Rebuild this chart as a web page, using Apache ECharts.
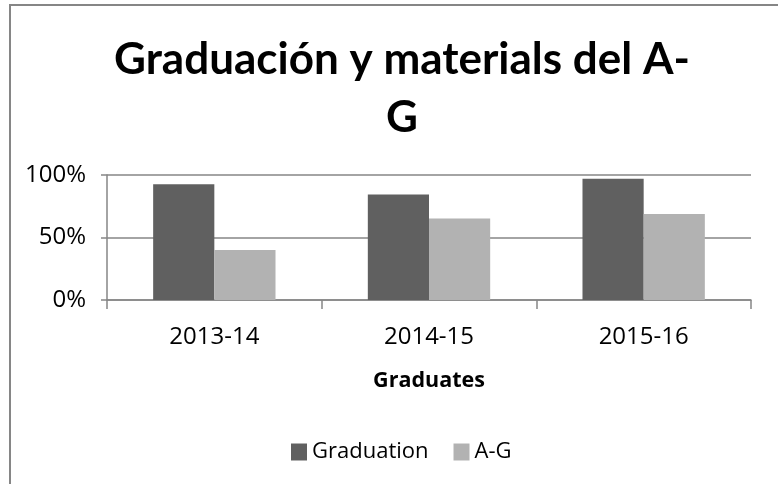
<!DOCTYPE html>
<html>
<head>
<meta charset="utf-8">
<script src="https://cdn.jsdelivr.net/npm/echarts@6/dist/echarts.min.js"></script>
<style>
html,body{margin:0;padding:0;background:#fff;}
#chart{width:778px;height:484px;}
</style>
</head>
<body>
<div id="chart"></div>
<script>
var categories = ['2013-14', '2014-15', '2015-16'];
var graduationValues = [0.926, 0.845, 0.970];
var agValues = [0.400, 0.653, 0.688];
var yTicks = [0, 0.5, 1];
var seriesNames = ['Graduation', 'A-G'];
var titleText = 'Graduación y materials del A-\nG';
var xAxisName = 'Graduates';

var chart = echarts.init(document.getElementById('chart'));
chart.setOption({
  backgroundColor: '#ffffff',
  animation: false,
  graphic: [{
    type: 'rect',
    shape: { x: 10, y: 5, width: 900, height: 700 },
    style: { fill: 'none', stroke: '#868686', lineWidth: 2 },
    silent: true
  }],
  title: {
    text: titleText,
    left: 397,
    textAlign: 'center',
    top: 26,
    textStyle: {
      fontFamily: 'Lato',
      fontWeight: 'bold',
      fontSize: 44,
      lineHeight: 58,
      color: '#000000'
    }
  },
  legend: {
    data: seriesNames,
    left: 286,
    top: 436,
    icon: 'rect',
    itemWidth: 16,
    itemHeight: 17,
    itemGap: 25,
    textStyle: { fontFamily: 'Open Sans', fontSize: 22, color: '#000000' }
  },
  grid: { left: 107, right: 27, top: 175, bottom: 184, containLabel: false },
  xAxis: {
    type: 'category',
    data: categories,
    name: xAxisName,
    nameLocation: 'middle',
    nameGap: 70,
    nameTextStyle: { fontFamily: 'Open Sans', fontWeight: 'bold', fontSize: 21.5, color: '#000000' },
    axisLine: { show: true, lineStyle: { color: '#868686', width: 1.5 } },
    axisTick: { show: true, length: 9, interval: 0, alignWithLabel: false, lineStyle: { color: '#868686', width: 1.5 } },
    axisLabel: { fontFamily: 'Open Sans', fontSize: 24, color: '#000000', margin: 25, interval: 0 }
  },
  yAxis: {
    type: 'value',
    min: yTicks[0],
    max: yTicks[yTicks.length - 1],
    interval: yTicks[1] - yTicks[0],
    axisLine: { show: true, lineStyle: { color: '#868686', width: 1.5 } },
    axisTick: { show: true, length: 6, lineStyle: { color: '#868686', width: 1.5 } },
    axisLabel: {
      fontFamily: 'Open Sans', fontSize: 24, color: '#000000', margin: 21,
      formatter: function (v) { return Math.round(v * 100) + '%'; }
    },
    splitLine: { show: true, lineStyle: { color: '#868686', width: 1.5 } }
  },
  series: [
    {
      name: seriesNames[0], type: 'bar', data: graduationValues,
      itemStyle: { color: '#606060' }, barGap: '0%', barCategoryGap: '43%'
    },
    {
      name: seriesNames[1], type: 'bar', data: agValues,
      itemStyle: { color: '#b2b2b2' }, barGap: '0%', barCategoryGap: '43%'
    }
  ]
});
</script>
</body>
</html>
